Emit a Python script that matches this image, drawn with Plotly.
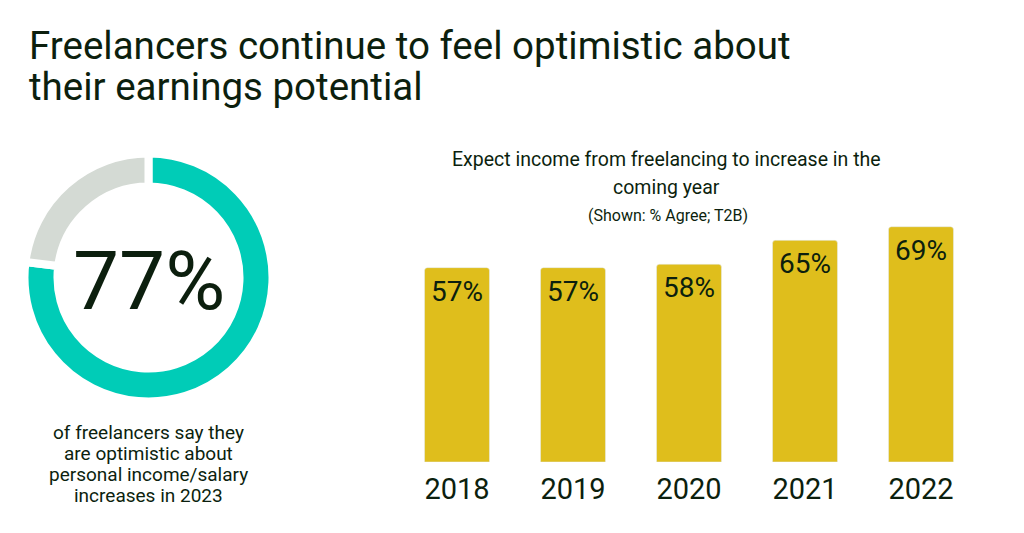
import plotly.graph_objects as go

# Data
years = ["2018", "2019", "2020", "2021", "2022"]
expect_increase = [57, 57, 58, 65, 69]
optimistic_share = [77, 23]
optimistic_labels = ["Optimistic", "Other"]
caption_lines = ["of freelancers say they", "are optimistic about",
                 "personal income/salary", "increases in 2023"]

W, H = 1024, 533
TEXT = "#0c1f0e"
TEAL = "#00ccb7"
GRAY = "#d4dad4"
YELLOW = "#dfbe1c"
FONT = "Roboto"

def px_x(x):
    return x / W

def px_y(y):
    return 1 - y / H

fig = go.Figure()

# Donut
fig.add_trace(go.Pie(
    values=optimistic_share,
    labels=optimistic_labels,
    sort=False,
    direction="clockwise",
    rotation=0,
    hole=0.734,
    textinfo="none",
    hoverinfo="label+value",
    marker=dict(colors=[TEAL, GRAY], line=dict(color="white", width=8)),
    domain=dict(x=[px_x(24.5), px_x(272.5)], y=[px_y(401.5), px_y(153.5)]),
    showlegend=False,
))

# Bars
fig.add_trace(go.Bar(
    x=years,
    y=expect_increase,
    marker=dict(color=YELLOW, cornerradius=3),
    width=0.56,
    hoverinfo="x+y",
    showlegend=False,
))

annotations = []
for i, v in enumerate(expect_increase):
    annotations.append(dict(
        x=i, y=v, xref="x", yref="y", text=f"{v}%", showarrow=False,
        yanchor="middle", yshift=-23.5,
        font=dict(family=FONT, size=28, color=TEXT),
    ))

def txt(x, y, text, size, anchor="center"):
    return dict(x=px_x(x), y=px_y(y), xref="paper", yref="paper", xanchor=anchor,
                yanchor="middle", text=text, showarrow=False,
                font=dict(family=FONT, size=size, color=TEXT))

annotations += [
    txt(27, 46, "Freelancers continue to feel optimistic about", 38.5, "left"),
    txt(27, 87, "their earnings potential", 38.5, "left"),
    txt(666, 159, "Expect income from freelancing to increase in the", 19.5),
    txt(666, 187, "coming year", 19.5),
    txt(668, 215, "(Shown: % Agree; T2B)", 16),
    txt(148.5, 281, "77%", 82),
]
for k, line in enumerate(caption_lines):
    annotations.append(txt(148.5, 432 + 21 * k, line, 19))

fig.update_layout(
    width=W, height=H,
    margin=dict(l=0, r=0, t=0, b=0),
    paper_bgcolor="white", plot_bgcolor="white",
    annotations=annotations,
    xaxis=dict(type="category", domain=[px_x(399), px_x(979)], range=[-0.5, 4.5],
               showgrid=False, zeroline=False, showline=False, ticks="",
               tickfont=dict(family=FONT, size=29, color=TEXT),
               ticklabelstandoff=7),
    yaxis=dict(domain=[px_y(462), px_y(189.2)], range=[0, 80], visible=False),
    bargap=0.44,
)

fig.write_html("out.html")
